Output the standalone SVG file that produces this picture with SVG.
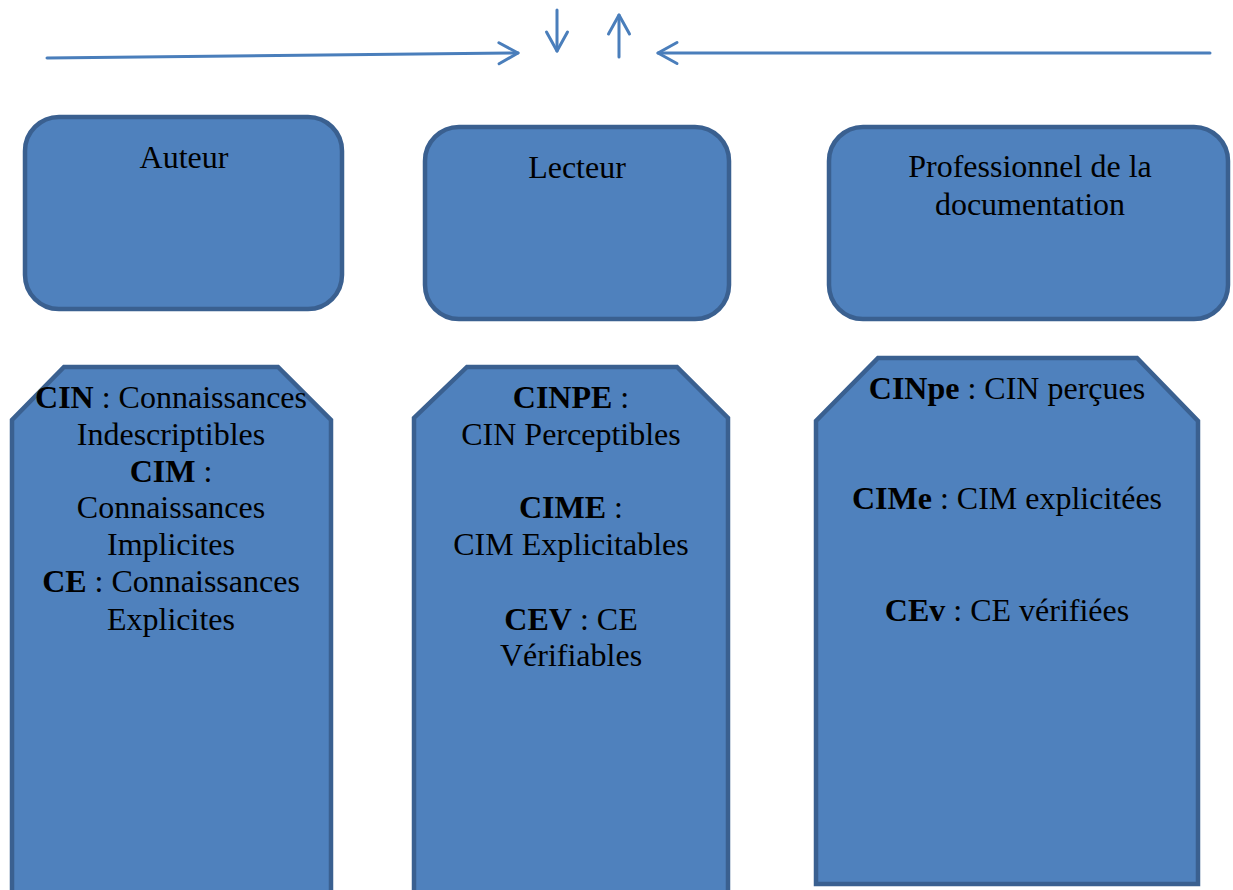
<svg xmlns="http://www.w3.org/2000/svg" width="1233" height="890" viewBox="0 0 1233 890">
  <style>
    .box { fill: #4f81bd; stroke: #3a6090; stroke-width: 4.5; }
    .txt { font-family: "Liberation Serif", "Times New Roman", serif; font-size: 32px; fill: #000; text-anchor: middle; }
    .b { font-weight: bold; }
    .conn { fill: none; stroke: #4a7ebb; stroke-width: 3; stroke-linecap: round; }
  </style>
  <defs>
    <marker id="chevron" markerUnits="userSpaceOnUse" markerWidth="24" markerHeight="26" refX="19" refY="11" orient="auto" overflow="visible">
      <path d="M0,0.5 L19,11 L0,21.5" fill="none" stroke="#4a7ebb" stroke-width="3" stroke-linecap="round" stroke-linejoin="round"/>
    </marker>
  </defs>

  <rect width="1233" height="890" fill="#ffffff"/>

  <!-- connectors -->
  <g id="connectors">
    <line class="conn" x1="47" y1="58" x2="518" y2="53" marker-end="url(#chevron)"/>
    <line class="conn" x1="557" y1="10" x2="557" y2="51" marker-end="url(#chevron)"/>
    <line class="conn" x1="619" y1="57" x2="619" y2="15" marker-end="url(#chevron)"/>
    <line class="conn" x1="1210" y1="53" x2="658" y2="53" marker-end="url(#chevron)"/>
  </g>

  <!-- actor boxes -->
  <g id="auteur">
    <rect class="box" x="25" y="117" width="317" height="192" rx="34" ry="34"/>
    <text class="txt" x="184" y="168">Auteur</text>
  </g>
  <g id="lecteur">
    <rect class="box" x="425" y="127" width="304" height="192" rx="34" ry="34"/>
    <text class="txt" x="577" y="178">Lecteur</text>
  </g>
  <g id="professionnel">
    <rect class="box" x="829" y="127" width="399" height="192" rx="34" ry="34"/>
    <text class="txt" x="1030" y="177">Professionnel de la</text>
    <text class="txt" x="1030" y="215">documentation</text>
  </g>

  <!-- knowledge panels -->
  <g id="connaissances-auteur">
    <path class="box" d="M64,367 L278,367 L331,420 L331,900 L12,900 L12,420 Z"/>
    <text class="txt" x="171" y="408"><tspan class="b">CIN</tspan> : Connaissances</text>
    <text class="txt" x="171" y="445">Indescriptibles</text>
    <text class="txt" x="171" y="482"><tspan class="b">CIM</tspan> :</text>
    <text class="txt" x="171" y="518">Connaissances</text>
    <text class="txt" x="171" y="555">Implicites</text>
    <text class="txt" x="171" y="592"><tspan class="b">CE</tspan> : Connaissances</text>
    <text class="txt" x="171" y="630">Explicites</text>
  </g>
  <g id="connaissances-lecteur">
    <path class="box" d="M467,367 L677,367 L728,418 L728,900 L414,900 L414,418 Z"/>
    <text class="txt" x="571" y="408"><tspan class="b">CINPE</tspan> :</text>
    <text class="txt" x="571" y="445">CIN Perceptibles</text>
    <text class="txt" x="571" y="518"><tspan class="b">CIME</tspan> :</text>
    <text class="txt" x="571" y="555">CIM Explicitables</text>
    <text class="txt" x="571" y="630"><tspan class="b">CEV</tspan> : CE</text>
    <text class="txt" x="571" y="666">Vérifiables</text>
  </g>
  <g id="connaissances-professionnel">
    <path class="box" d="M878,358 L1137,358 L1198,421 L1198,884 L816,884 L816,421 Z"/>
    <text class="txt" x="1007" y="399"><tspan class="b">CINpe</tspan> : CIN perçues</text>
    <text class="txt" x="1007" y="509"><tspan class="b">CIMe</tspan> : CIM explicitées</text>
    <text class="txt" x="1007" y="621"><tspan class="b">CEv</tspan> : CE vérifiées</text>
  </g>
</svg>
